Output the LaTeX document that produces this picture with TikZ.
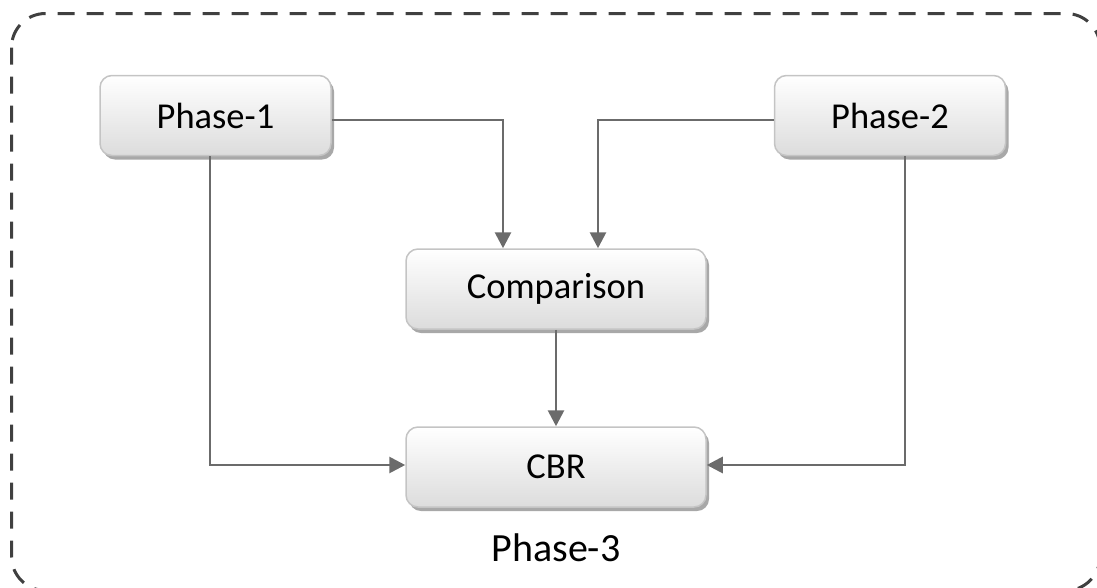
\documentclass[tikz,border=0pt]{standalone}
\usepackage{fontspec}
\setmainfont{Carlito}
\usetikzlibrary{arrows.meta,shadows}
\definecolor{boxborder}{HTML}{C4C4C4}
\definecolor{boxtop}{HTML}{FFFFFF}
\definecolor{boxbot}{HTML}{DCDCDC}
\definecolor{shadowc}{HTML}{A8A8A8}
\definecolor{arrowc}{HTML}{6B6B6B}
\definecolor{framec}{HTML}{404040}
\tikzset{
  pbox/.style={draw=boxborder, line width=1.5pt, rounded corners=12pt,
    top color=boxtop, bottom color=boxbot,
    minimum height=80pt, inner sep=0pt,
    font=\fontsize{36.5}{42}\selectfont,
    drop shadow={shadow xshift=3pt, shadow yshift=-4pt, fill=shadowc, opacity=1}},
  conn/.style={draw=arrowc, line width=2.8pt, -{Triangle[length=16pt,width=16pt]}},
  frame/.style={draw=framec, line width=3pt, dash pattern=on 17pt off 12pt, rounded corners=34pt}
}
\begin{document}
\begin{tikzpicture}[x=1pt,y=-1pt]
\useasboundingbox (0,0) rectangle (1097,587);
\begin{scope}
\clip (0,0) rectangle (1097,587);
\draw[frame] (11.5,13.5) rectangle (1100,590.5);
\end{scope}
\node[pbox, minimum width=231pt] (p1) at (215.5,115.5) {Phase-1};
\node[pbox, minimum width=231pt] (p2) at (890,115.5) {Phase-2};
\node[pbox, minimum width=300pt] (cmp) at (556,289) {Comparison};
\node[pbox, minimum width=300pt] (cbr) at (556,467) {CBR};
\node[font=\fontsize{40}{46}\selectfont] (p3) at (556,548) {Phase-3};
\coordinate (a1) at (503,120);
\coordinate (a2) at (598,120);
\coordinate (b1) at (210,465);
\coordinate (b2) at (905,465);
\draw[conn] (p1.east |- a1) -- (a1) -- (a1 |- cmp.north);
\draw[conn] (p2.west |- a2) -- (a2) -- (a2 |- cmp.north);
\draw[conn] (b1 |- p1.south) -- (b1) -- (cbr.west |- b1);
\draw[conn] (b2 |- p2.south) -- (b2) -- (cbr.east |- b2);
\draw[conn] (cmp.south) -- (cbr.north);
\end{tikzpicture}
\end{document}
